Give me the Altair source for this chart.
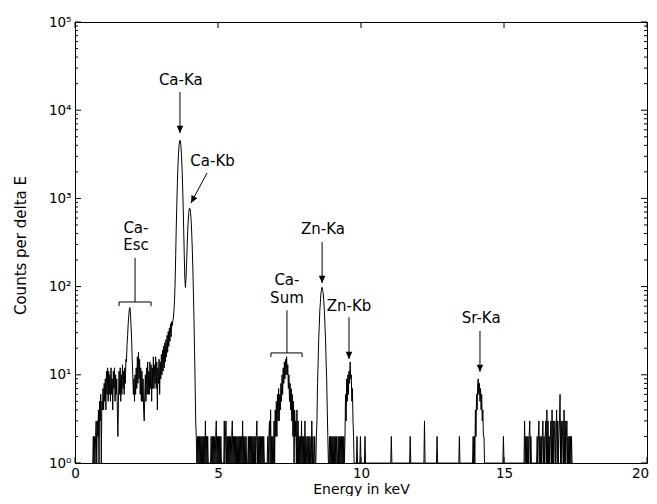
import math
import altair as alt
import numpy as np
import pandas as pd

F = "DejaVu Sans"
STEP = 0.02  # channel width in keV

# ---- spectrum, channel counts ----
low_start = 0.60
low_counts = [
    0, 0, 2, 0, 2, 0, 2, 3, 0, 3,
    2, 4, 0, 5, 3, 6, 0, 5, 4, 7,
    4, 8, 5, 9, 4, 11, 6, 12, 5, 11,
    6, 10, 5, 12, 6, 9, 4, 11, 7, 12,
    5, 10, 6, 9, 4, 2, 5, 11, 6, 12,
    5, 10, 6, 13, 7, 11, 6, 12, 8, 15,
    14, 22, 28, 38, 47, 55, 58, 49, 36, 25,
    15, 10, 6, 9, 5, 10, 6, 12, 7, 16,
    8, 18, 9, 15, 6, 12, 5, 11, 5, 9,
    4, 3, 6, 10, 5, 12, 6, 14, 6, 11,
    6, 14, 7, 13, 5, 12, 7, 16, 7, 13,
    8, 16, 7, 14, 4, 12, 8, 15, 6, 14,
    9, 17, 10, 19, 11, 21, 12, 23, 14, 25,
    16, 28, 18, 31, 21, 34, 24, 38, 27, 40,
    36, 41, 44, 53, 70, 110, 225, 460, 870, 1500,
    2340, 3260, 4060, 4540, 4530, 4060, 3250, 2330, 1495, 860,
    445, 230, 126, 98, 121, 175, 280, 418, 568, 696,
    772, 770, 695, 565, 414, 273, 163, 87, 43, 19,
    8, 3, 2, 0, 2, 0,
]

gap1_start = 4.32
gap1_counts = [
    2, 0, 2, 0, 2, 0, 2, 0, 2, 0,
    2, 0, 3, 0, 2, 0, 2, 0, 0, 0,
    0, 0, 2, 0, 2, 0, 2, 0, 2, 0,
    2, 3, 0, 2, 0, 2, 0, 2, 0, 2,
    0, 0, 0, 0, 0, 3, 0, 2, 3, 0,
    2, 0, 2, 0, 2, 0, 2, 0, 2, 3,
    0, 2, 0, 2, 0, 2, 0, 2, 0, 2,
    0, 2, 0, 2, 0, 2, 0, 3, 0, 2,
    0, 2, 0, 2, 0, 0, 0, 2, 0, 2,
    0, 2, 0, 2, 0, 2, 0, 2, 0, 2,
    0, 2, 3, 0, 2, 0, 2, 0, 2, 0,
    2, 0, 2, 0, 2, 0, 0, 0, 0, 0,
    0, 2, 0, 2,
]

sum_start = 6.80
sum_counts = [
    3, 0, 4, 0, 2, 0, 2, 0, 3, 0,
    4, 2, 5, 2, 6, 3, 7, 3, 6, 4,
    8, 5, 10, 6, 12, 8, 14, 9, 15, 10,
    16, 10, 13, 7, 10, 5, 8, 4, 7, 3,
    6, 2, 5, 0, 4, 2, 3, 0, 4, 0,
    3, 0, 2, 0, 2, 0, 3, 0, 2, 0,
    2, 0, 3, 0, 2, 0, 0, 2, 0, 2,
    0, 2, 0, 0, 3, 0, 2, 0, 0, 2,
]

znka_start = 8.40
znka_counts = [
    0, 1, 2, 3, 8, 13, 25, 35, 54, 66,
    85, 91, 98, 90, 84, 67, 53, 36, 25, 14,
    9, 4, 2, 0, 0,
]

gap2_start = 8.90
gap2_counts = [
    2, 0, 2, 0, 2, 0, 2, 0, 2, 0,
    2, 0, 2, 0, 0, 2, 0, 2, 0, 2,
    0, 2, 0, 2, 0, 2, 0,
]

znkb_start = 9.44
znkb_counts = [2, 6, 3, 9, 5, 10, 6, 11, 8, 14, 9, 10, 5, 7, 3, 2, 0, 0, 0]

sr_start = 13.92
sr_counts = [2, 0, 2, 0, 4, 2, 6, 4, 8, 9, 6, 8, 5, 7, 4, 6, 3, 4, 2, 2, 0]

hi_start = 15.70
hi_counts = [
    0, 3, 0, 2, 0, 2, 0, 2, 0, 2,
    3, 0, 2, 0, 0, 0, 0, 0, 0, 0,
    0, 0, 0, 2, 0, 2, 3, 0, 2, 0,
    2, 0, 2, 3, 0, 2, 0, 2, 3, 0,
    4, 0, 3, 0, 2, 0, 2, 3, 0, 4,
    0, 3, 0, 2, 3, 0, 2, 4, 0, 3,
    0, 2, 3, 6, 0, 3, 0, 2, 3, 0,
    4, 0, 3, 0, 2, 3, 0, 2, 0, 2,
    0, 2, 0, 2, 0, 0,
]

spike_e = [9.86, 9.98, 10.14, 11.06, 11.72, 12.22, 12.66, 13.44, 14.98]
spike_c = [2, 2, 2, 2, 2, 3, 2, 2, 2]

# ---- axes ----
x_ticks = [0, 5, 10, 15, 20]
y_ticks = [1, 10, 100, 1000, 10000, 100000]
y_tick_labels = ["10⁰", "10¹", "10²", "10³", "10⁴", "10⁵"]
y_minor = [m * 10 ** d for d in range(5) for m in range(2, 10)]

# ---- annotations (data coordinates) ----
ann_text = ["Ca-Ka", "Ca-Kb", "Ca-", "Esc", "Ca-", "Sum", "Zn-Ka", "Zn-Kb", "Sr-Ka"]
ann_text_e = [3.70, 4.81, 2.13, 2.13, 7.41, 7.41, 8.67, 9.58, 14.20]
ann_text_c = [21900, 2650, 462, 296, 119, 74, 450, 60, 44]

arrow_e1 = [3.67, 4.615, 8.64, 9.58, 14.16]
arrow_c1 = [16100, 1940, 320, 45, 31.4]
arrow_e2 = [3.67, 4.056, 8.64, 9.58, 14.16]
arrow_c2 = [5510, 887, 110, 15.1, 10.8]

br_stem_e = [2.10, 7.41]
br_top_c = [211, 54]
br_left_e = [1.54, 6.85]
br_right_e = [2.66, 7.94]
br_c = [66.9, 17.7]
br_end_c = [60, 15.9]

# ---- build tables ----
E0, E1 = 0.60, 17.40
n = int(round((E1 - E0) / STEP)) + 1
counts = np.zeros(n)
for start, vals in [(low_start, low_counts), (gap1_start, gap1_counts), (sum_start, sum_counts),
                    (znka_start, znka_counts), (gap2_start, gap2_counts), (znkb_start, znkb_counts),
                    (sr_start, sr_counts), (hi_start, hi_counts)]:
    i0 = int(round((start - E0) / STEP))
    for j, v in enumerate(vals):
        counts[i0 + j] = v
for e, c in zip(spike_e, spike_c):
    counts[int(round((e - E0) / STEP))] = c
spec = pd.DataFrame({"E": E0 + STEP * np.arange(n), "c": counts})
spec["y"] = spec["c"].clip(lower=1)

W, H = 572, 441
xs = alt.Scale(domain=[0, 20], nice=False, zero=False)
ys = alt.Scale(type="log", domain=[1, 100000], nice=False)


def px(e):
    return e / 20 * W


def py(c):
    return H * (1 - math.log10(c) / 5)


segs = []
angles = []
for e1, c1, e2, c2 in zip(arrow_e1, arrow_c1, arrow_e2, arrow_c2):
    segs.append((e1, c1, e2, c2))
    dx, dy = px(e2) - px(e1), py(c2) - py(c1)
    angles.append(math.degrees(math.atan2(-dx, dy)) % 360)
for se, tc, le, re_, bc, ec in zip(br_stem_e, br_top_c, br_left_e, br_right_e, br_c, br_end_c):
    segs += [(se, tc, se, bc), (le, bc, re_, bc), (le, bc, le, ec), (re_, bc, re_, ec)]
seg_df = pd.DataFrame(segs, columns=["e1", "c1", "e2", "c2"])
head_df = pd.DataFrame({"e": arrow_e2, "c": arrow_c2, "ang": angles})
text_df = pd.DataFrame({"t": ann_text, "e": ann_text_e, "c": ann_text_c})

label_expr = " : ".join(f"datum.value == {v} ? '{t}'" for v, t in zip(y_ticks, y_tick_labels)) + " : ''"

axX = alt.Axis(
    values=x_ticks, title="Energy in keV", ticks=False, domain=False, grid=False,
    labelFont=F, labelFontSize=13.5, labelColor="black", labelPadding=3, labelFlush=False,
    labelOffset={"condition": {"test": f"datum.value == {x_ticks[-1]}", "value": -7}, "value": 0},
    titleFont=F, titleFontSize=14, titleFontWeight="normal", titleColor="black",
    titleY=30, titleBaseline="alphabetic")
axY = alt.Axis(
    values=y_ticks, labelExpr=label_expr, title="Counts per delta E", ticks=False,
    domain=False, grid=False, labelFont=F, labelFontSize=13.5, labelColor="black",
    labelPadding=4, titleFont=F, titleFontSize=15, titleFontWeight="normal",
    titleColor="black", titleX=-55, titleY=223, titleAngle=270, titleBaseline="middle",
    titleAlign="center")

line = alt.Chart(spec).mark_line(color="black", strokeWidth=1, clip=True).encode(
    x=alt.X("E:Q", scale=xs, axis=axX),
    y=alt.Y("y:Q", scale=ys, axis=axY),
)

ymaj = pd.DataFrame({"v": y_ticks})
ymin = pd.DataFrame({"v": y_minor})
xmaj = pd.DataFrame({"v": x_ticks})


def yrule(df, a, b):
    return alt.Chart(df).mark_rule(color="black", strokeWidth=1).encode(
        y=alt.Y("v:Q", scale=ys, axis=axY), x=alt.value(a), x2=alt.value(b))


def xrule(df, a, b):
    return alt.Chart(df).mark_rule(color="black", strokeWidth=1).encode(
        x=alt.X("v:Q", scale=xs, axis=axX), y=alt.value(a), y2=alt.value(b))


ticks = [
    yrule(ymaj, 0, 6), yrule(ymaj, W - 6, W),
    yrule(ymin, 0, 3), yrule(ymin, W - 3, W),
    xrule(xmaj, H - 6, H), xrule(xmaj, 0, 6),
]

rules = alt.Chart(seg_df).mark_rule(color="black", strokeWidth=1).encode(
    x=alt.X("e1:Q", scale=xs, axis=axX), y=alt.Y("c1:Q", scale=ys, axis=axY),
    x2="e2:Q", y2="c2:Q")

heads = alt.Chart(head_df).mark_point(
    shape="M0,0L-1.1,-2.4L1.1,-2.4Z", filled=True, size=36, color="black", opacity=1, strokeWidth=0
).encode(
    x=alt.X("e:Q", scale=xs, axis=axX), y=alt.Y("c:Q", scale=ys, axis=axY),
    angle=alt.Angle("ang:Q", scale=None))

texts = alt.Chart(text_df).mark_text(font=F, fontSize=15, color="black", align="center",
                                     baseline="middle").encode(
    x=alt.X("e:Q", scale=xs, axis=axX), y=alt.Y("c:Q", scale=ys, axis=axY), text="t:N")

chart = alt.layer(line, *ticks, rules, heads, texts).properties(
    width=W, height=H,
    autosize=alt.AutoSizeParams(type="none"),
    padding={"left": 67, "top": 14, "right": 2, "bottom": 33},
    background="white",
).configure_view(stroke="black", strokeWidth=1)

chart.save("out.html", embed_options={"renderer": "svg", "actions": False})
